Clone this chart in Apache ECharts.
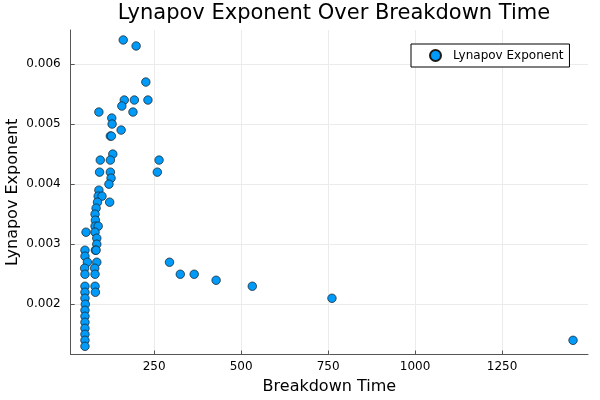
<!DOCTYPE html>
<html>
<head>
<meta charset="utf-8">
<script src="https://cdn.jsdelivr.net/npm/echarts@6/dist/echarts.min.js"></script>
<style>html,body{margin:0;padding:0;background:#fff}#c{width:600px;height:400px}</style>
</head>
<body>
<div id="c"></div>
<script>
const breakdownTime = [161,198,226,164,193,232,157,91,189,128,129,155,124,127,131,95,124,264,93,124,259,126,120,91,89,100,87,122,83,80,81,80,89,54,80,85,85,51,81,83,51,58,85,294,50,79,51,80,325,365,428,532,51,80,51,81,51,761,52,51,51,51,51,51,51,51,1454];
const lyapunovExponent = [0.0064,0.0063,0.0057,0.0054,0.0054,0.0054,0.0053,0.0052,0.0052,0.0051,0.0050,0.0049,0.0048,0.0048,0.0045,0.0044,0.0044,0.0044,0.0042,0.0042,0.0042,0.0041,0.0040,0.0039,0.0038,0.0038,0.0037,0.0037,0.0036,0.0035,0.0034,0.0033,0.0033,0.0032,0.0032,0.0031,0.0030,0.0029,0.0029,0.0029,0.0028,0.0027,0.0027,0.0027,0.0026,0.0026,0.0025,0.0025,0.0025,0.0025,0.0024,0.0023,0.0023,0.0023,0.0022,0.0022,0.0021,0.0021,0.0020,0.0019,0.0018,0.0017,0.0016,0.0015,0.0014,0.0013,0.0014];
const xTicks = [250,500,750,1000,1250];
const yTicks = [0.002,0.003,0.004,0.005,0.006];
const seriesName = 'Lynapov Exponent';

const points = breakdownTime.map((t,i)=>[t, lyapunovExponent[i]]);
const font = 'DejaVu Sans';
const axisColor = '#555';
const chart = echarts.init(document.getElementById('c'), null, {renderer:'canvas'});
chart.setOption({
  animation:false,
  backgroundColor:'#fff',
  title:{text:'Lynapov Exponent Over Breakdown Time', left:329, top:-2, textAlign:'center',
    textStyle:{fontFamily:font, fontSize:21, fontWeight:'normal', color:'#000'}},
  legend:{left:411, top:44, orient:'vertical', borderColor:'#000', borderWidth:1, backgroundColor:'#fff',
    padding:[5,6,5,18], itemWidth:11, itemHeight:11, itemGap:8, icon:'circle',
    textStyle:{fontFamily:font, fontSize:12, color:'#000', padding:[0,0,0,7]}, data:[seriesName]},
  grid:{left:70.7, right:12, top:30, bottom:45.5, containLabel:false, outerBoundsMode:'none'},
  xAxis:{type:'value', min:10, max:1497, name:'Breakdown Time', nameLocation:'middle', nameGap:24,
    nameMoveOverlap:false,
    nameTextStyle:{fontFamily:font, fontSize:16, color:'#000'},
    axisLine:{show:true, lineStyle:{color:axisColor, width:1}},
    axisTick:{show:true, inside:true, length:4, customValues:xTicks, lineStyle:{color:axisColor}},
    axisLabel:{customValues:xTicks, fontFamily:font, fontSize:12, color:'#000', margin:6,
      formatter:(v)=>String(v)},
    splitLine:{show:true, lineStyle:{color:'#ebebeb', width:1}}},
  yAxis:{type:'value', min:0.001164, max:0.006566, name:'Lynapov Exponent', nameLocation:'middle', nameGap:50,
    nameMoveOverlap:false,
    nameTextStyle:{fontFamily:font, fontSize:16, color:'#000'},
    axisLine:{show:true, lineStyle:{color:axisColor, width:1}},
    axisTick:{show:true, inside:true, length:4, customValues:yTicks, lineStyle:{color:axisColor}},
    axisLabel:{customValues:yTicks, fontFamily:font, fontSize:12, color:'#000', margin:10,
      formatter:(v)=>v.toFixed(3)},
    splitLine:{show:true, lineStyle:{color:'#ebebeb', width:1}}},
  series:[{name:seriesName, type:'scatter', data:points, symbol:'circle', symbolSize:8.5,
    itemStyle:{color:'#009af9', borderColor:'#1a1a1a', borderWidth:0.7, opacity:1}}]
});
</script>
</body>
</html>
